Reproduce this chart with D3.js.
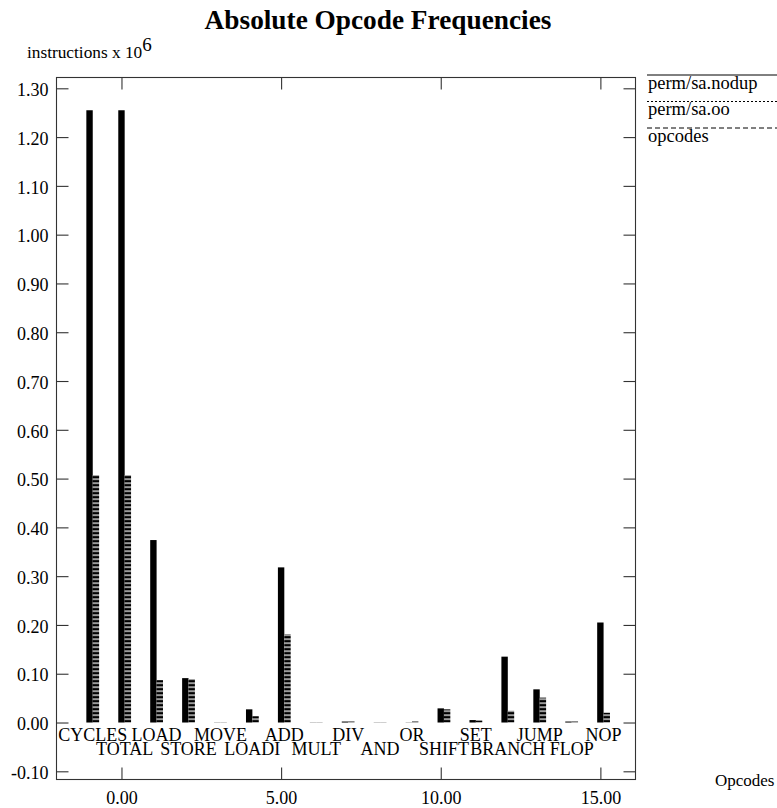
<!DOCTYPE html>
<html>
<head>
<meta charset="utf-8">
<script src="https://cdn.jsdelivr.net/npm/d3@7"></script>
<style>
  body { margin: 0; background: #fff; }
  text { font-family: "Liberation Serif", "Times New Roman", serif; fill: #000; }
</style>
</head>
<body>
<svg id="chart" width="777" height="808"></svg>
<script>
// Opcode categories and their positions along the x axis
const opcodes   = ["CYCLES", "TOTAL", "LOAD", "STORE", "MOVE", "LOADI", "ADD", "MULT", "DIV",
                   "AND", "OR", "SHIFT", "SET", "BRANCH", "JUMP", "FLOP", "NOP"];
const positions = [-1, 0, 1, 2, 3, 4, 5, 6, 7, 8, 9, 10, 11, 12, 13, 14, 15];

// instructions x 10^6 per opcode
const nodupValues = [1.255, 1.255, 0.374, 0.091, 0, 0.027, 0.318, 0, 0.002, 0, 0, 0.029, 0.005, 0.135, 0.068, 0.002, 0.205];
const ooValues    = [0.507, 0.507, 0.087, 0.089, 0, 0.013, 0.181, 0, 0.002, 0, 0.002, 0.027, 0.004, 0.024, 0.051, 0.002, 0.020];
const opcodeValues = [];

const seriesNames = ["perm/sa.nodup", "perm/sa.oo", "opcodes"];
const legendDash  = [null, "2,2", "5,3"];

const yTicks = [-0.10, 0.00, 0.10, 0.20, 0.30, 0.40, 0.50, 0.60, 0.70, 0.80, 0.90, 1.00, 1.10, 1.20, 1.30];
const xTicks = [0, 5, 10, 15];

const frame = { left: 56.5, right: 635.5, top: 77.5, bottom: 779.5 };

const svg = d3.select("#chart");

const x = d3.scaleLinear().domain([-2.035, 16.1]).range([frame.left, frame.right]);
const y = d3.scaleLinear().domain([-0.10, 1.30]).range([771.3, 88.3]);

const fmt = d => d.toFixed(2);
const frameColor = "#333";

// Stripe fill for the second series
const defs = svg.append("defs");
const pat = defs.append("pattern")
  .attr("id", "stripes")
  .attr("patternUnits", "userSpaceOnUse")
  .attr("width", 8).attr("height", 4)
  .attr("y", y(0));
pat.append("rect").attr("width", 8).attr("height", 4).attr("fill", "#fff");
pat.append("rect").attr("y", 1.2).attr("width", 8).attr("height", 2.8).attr("fill", "#000");

// Title
svg.append("text")
  .attr("x", 378).attr("y", 29)
  .attr("text-anchor", "middle")
  .style("font-size", "27.3px").style("font-weight", "bold")
  .text("Absolute Opcode Frequencies");

// Y axis title with superscript
const yTitle = svg.append("text").attr("x", 27).attr("y", 57.5).style("font-size", "17.3px");
yTitle.append("tspan").text("instructions x 10");
yTitle.append("tspan").attr("dy", -7).style("font-size", "19px").text("6");

// Axes with inward ticks
const styleAxis = g => {
  g.select(".domain").remove();
  g.selectAll(".tick line").attr("stroke", frameColor).attr("stroke-width", 1.1);
  g.selectAll(".tick text").style("font-size", "18px").attr("font-family", null);
};

svg.append("g")
  .attr("transform", `translate(${frame.left},0)`)
  .call(d3.axisLeft(y).tickValues(yTicks).tickFormat(fmt).tickSizeInner(-12).tickSizeOuter(0).tickPadding(8))
  .call(styleAxis)
  .call(g => g.selectAll(".tick text").attr("dy", "0.4em"));

svg.append("g")
  .attr("transform", `translate(${frame.right},0)`)
  .call(d3.axisRight(y).tickValues(yTicks).tickFormat("").tickSizeInner(-12).tickSizeOuter(0))
  .call(styleAxis);

svg.append("g")
  .attr("transform", `translate(0,${frame.bottom})`)
  .call(d3.axisBottom(x).tickValues(xTicks).tickFormat(fmt).tickSizeInner(-12).tickSizeOuter(0).tickPadding(12))
  .call(styleAxis);

svg.append("g")
  .attr("transform", `translate(0,${frame.top})`)
  .call(d3.axisTop(x).tickValues(xTicks).tickFormat("").tickSizeInner(-12).tickSizeOuter(0))
  .call(styleAxis);

// Plot frame
svg.append("rect")
  .attr("x", frame.left).attr("y", frame.top)
  .attr("width", frame.right - frame.left).attr("height", frame.bottom - frame.top)
  .attr("fill", "none").attr("stroke", frameColor).attr("stroke-width", 1.1);

// Bars: each series is shifted right by 0.2 units
const barWidth = 6.4;
const series = [
  { values: nodupValues, fill: "#000" },
  { values: ooValues, fill: "url(#stripes)" },
  { values: opcodeValues, fill: "#000" }
];
series.forEach((s, si) => {
  svg.append("g").selectAll("rect")
    .data(s.values.map((v, i) => ({ v, p: positions[i] })))
    .join("rect")
    .attr("x", d => x(d.p + si * 0.2) - barWidth / 2)
    .attr("width", barWidth)
    .attr("y", d => d.v === 0 ? y(0) - 0.5 : y(d.v))
    .attr("height", d => d.v === 0 ? 1 : Math.max(1, y(0) - y(d.v)))
    .attr("fill", d => d.v === 0 ? "#cfcfcf" : s.fill);
});

// Opcode names, alternating between two rows
svg.append("g").selectAll("text")
  .data(opcodes.map((name, i) => ({ name, p: positions[i], row: i % 2 })))
  .join("text")
  .attr("x", d => x(d.p + 0.1))
  .attr("y", d => d.row === 0 ? 741 : 754.5)
  .attr("text-anchor", "middle")
  .style("font-size", "18px")
  .text(d => d.name);

// X axis title
svg.append("text")
  .attr("x", 715).attr("y", 786)
  .style("font-size", "17px")
  .text("Opcodes");

// Legend
const legend = svg.append("g").selectAll("g")
  .data(seriesNames.map((name, i) => ({ name, dash: legendDash[i], i })))
  .join("g")
  .attr("transform", d => `translate(0,${75 + d.i * 26.5})`);
legend.append("line")
  .attr("x1", 647).attr("x2", 777)
  .attr("stroke", "#000").attr("stroke-width", 1)
  .attr("stroke-dasharray", d => d.dash);
legend.append("text")
  .attr("x", 648).attr("y", 13.5)
  .style("font-size", "18.5px")
  .text(d => d.name);
</script>
</body>
</html>
